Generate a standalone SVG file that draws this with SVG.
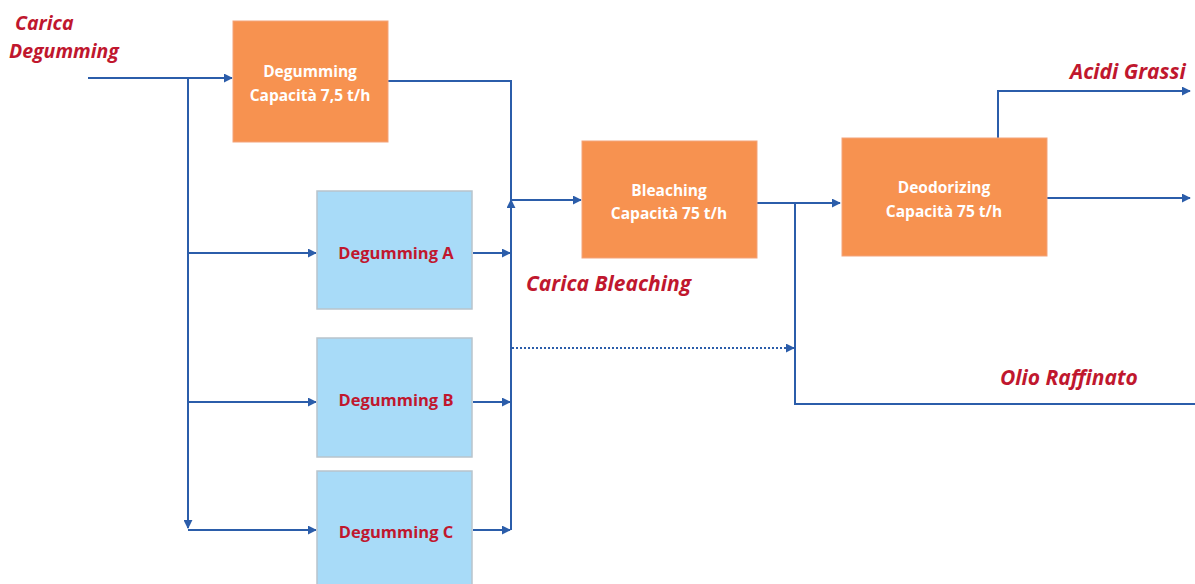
<svg xmlns="http://www.w3.org/2000/svg" width="1195" height="584" viewBox="0 0 1195 584">
<defs>
<marker id="arr" viewBox="0 0 10 10" refX="9" refY="5" markerWidth="4.5" markerHeight="4.5" orient="auto" markerUnits="strokeWidth">
<path d="M0,0 L10,5 L0,10 z" fill="#2B5DAA"/>
</marker>
<style>
.orange{fill:#F79250;stroke:#F3A37A;stroke-width:1}
.blue{fill:#A8DBF8;stroke:#B8C4CC;stroke-width:1.5}
.wt{font-family:"Open Sans","Liberation Sans",sans-serif;font-weight:bold;font-size:15.5px;fill:#FFFFFF;text-anchor:middle}
.rt{font-family:"Open Sans","Liberation Sans",sans-serif;font-weight:bold;font-size:16.5px;fill:#C0172E;text-anchor:middle}
.lbl{font-family:"Open Sans","Liberation Sans",sans-serif;font-weight:bold;font-style:italic;font-size:21px;fill:#C0172E}
.lbl2{font-family:"Open Sans","Liberation Sans",sans-serif;font-weight:bold;font-style:italic;font-size:19.5px;fill:#C0172E}
.ln{fill:none;stroke:#2B5DAA;stroke-width:2}
.dot{fill:none;stroke:#2B5DAA;stroke-width:2;stroke-dasharray:2 2}
</style>
</defs>
<rect width="1195" height="584" fill="#FFFFFF"/>
<g id="connectors">
<path class="ln" d="M88,78 H232" marker-end="url(#arr)"/>
<path class="ln" d="M188,78 V528" marker-end="url(#arr)"/>
<path class="ln" d="M188,253 H316" marker-end="url(#arr)"/>
<path class="ln" d="M188,402 H316" marker-end="url(#arr)"/>
<path class="ln" d="M188,530 H316" marker-end="url(#arr)"/>
<path class="ln" d="M388,81 H511 V200"/>
<path class="ln" d="M511,530 V200" marker-end="url(#arr)"/>
<path class="ln" d="M511,200 H581" marker-end="url(#arr)"/>
<path class="ln" d="M473,253 H510" marker-end="url(#arr)"/>
<path class="ln" d="M473,402 H510" marker-end="url(#arr)"/>
<path class="ln" d="M473,530 H510" marker-end="url(#arr)"/>
<path class="dot" d="M512,348 H794" marker-end="url(#arr)"/>
<path class="ln" d="M757,203 H840" marker-end="url(#arr)"/>
<path class="ln" d="M795,203 V404 H1195"/>
<path class="ln" d="M998,138 V91 H1190" marker-end="url(#arr)"/>
<path class="ln" d="M1047,198 H1190" marker-end="url(#arr)"/>
</g>
<g id="degumming">
<rect class="orange" x="233" y="21" width="155" height="121"/>
<text class="wt" x="310" y="77">Degumming</text>
<text class="wt" x="310" y="101">Capacità 7,5 t/h</text>
</g>
<g id="degumming-a">
<rect class="blue" x="317" y="191" width="155" height="118"/>
<text class="rt" x="396" y="259">Degumming A</text>
</g>
<g id="degumming-b">
<rect class="blue" x="317" y="338" width="155" height="119"/>
<text class="rt" x="396" y="406">Degumming B</text>
</g>
<g id="degumming-c">
<rect class="blue" x="317" y="471" width="155" height="120"/>
<text class="rt" x="396" y="538">Degumming C</text>
</g>
<g id="bleaching">
<rect class="orange" x="582" y="141" width="175" height="117"/>
<text class="wt" x="669" y="196">Bleaching</text>
<text class="wt" x="669" y="219">Capacità 75 t/h</text>
</g>
<g id="deodorizing">
<rect class="orange" x="842" y="138" width="205" height="118"/>
<text class="wt" x="944" y="193">Deodorizing</text>
<text class="wt" x="944" y="217">Capacità 75 t/h</text>
</g>
<g id="labels">
<text class="lbl2" x="15" y="30">Carica</text>
<text class="lbl2" x="9" y="58">Degumming</text>
<text class="lbl" x="526" y="291">Carica Bleaching</text>
<text class="lbl" x="1070" y="79">Acidi Grassi</text>
<text class="lbl" x="1000" y="385">Olio Raffinato</text>
</g>
</svg>
